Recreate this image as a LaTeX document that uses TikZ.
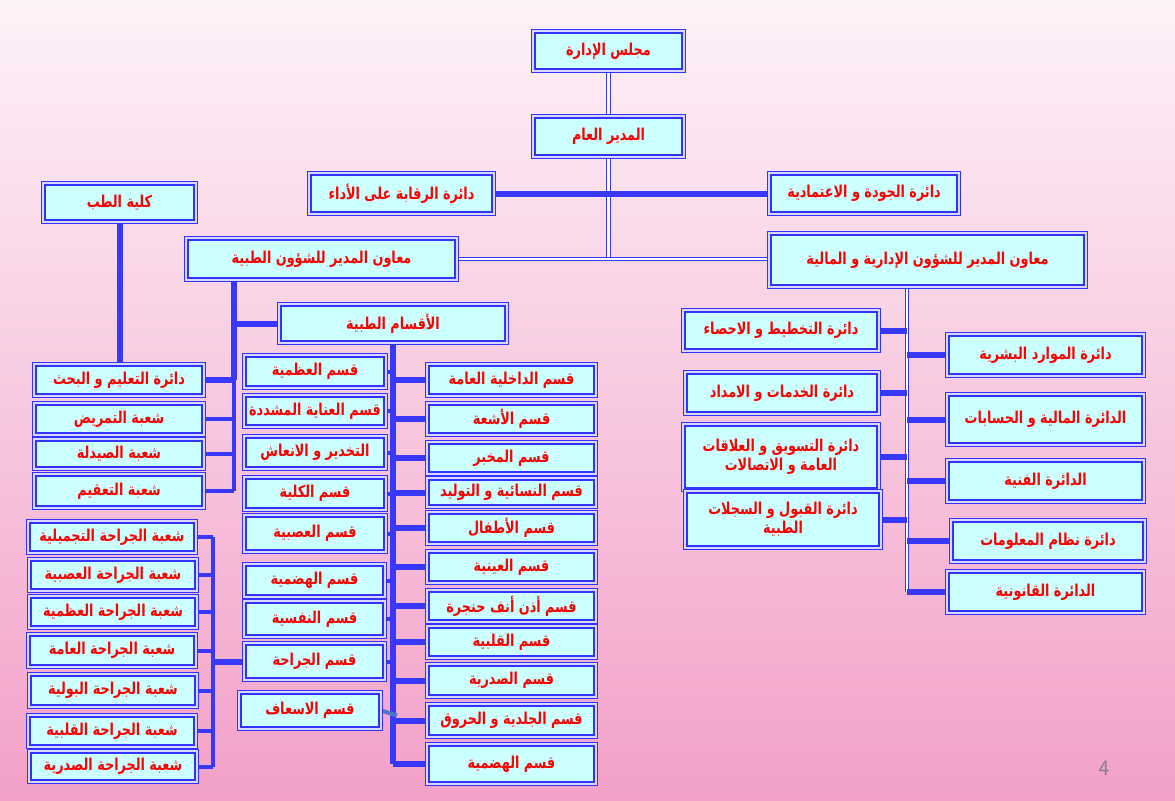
\documentclass[tikz,border=0pt]{standalone}
\usepackage{fontspec}
\newfontfamily\arabicfont[Script=Arabic, FakeStretch=0.78]{DejaVu Sans}
\TeXXeTstate=1
\usetikzlibrary{calc}
\pgfdeclarelayer{bg}
\pgfdeclarelayer{lines}
\pgfsetlayers{bg,lines,main}
\definecolor{lineblue}{RGB}{56,56,250}
\definecolor{boxblue}{RGB}{51,51,255}
\definecolor{boxfill}{RGB}{204,255,255}
\definecolor{gapcol}{RGB}{215,215,255}
\definecolor{txtred}{RGB}{255,0,0}
\definecolor{bgtop}{RGB}{253,242,248}
\definecolor{bgmid}{RGB}{248,210,228}
\definecolor{bgbot}{RGB}{242,160,200}
\definecolor{slantcol}{RGB}{80,120,190}
\newcommand\ar[1]{\beginR #1\endR}
\tikzset{
  box/.style={draw=boxblue, double=gapcol, line width=0.7pt, double distance=1pt,
    fill=boxfill, inner sep=0pt, align=center, text=txtred,
    font=\arabicfont\bfseries\fontsize{8.2}{9.5}\selectfont},
  thk/.style={draw=lineblue, line width=3pt},
  med/.style={draw=lineblue, line width=2pt},
  dbl/.style={draw=lineblue, double=white, line width=0.55pt, double distance=1.1pt},
  slant/.style={draw=slantcol, line width=2pt}
}
\newcommand\bx[6]{\node[box, minimum width={(#4-#2)*0.5pt-1.4pt}, minimum height={(#5-#3)*0.5pt-1.4pt}] (#1) at ({(#2+#4)/2},{(#3+#5)/2}) {#6};}
\begin{document}
\begin{tikzpicture}[x=0.5pt,y=-0.5pt]
\useasboundingbox (0,0) rectangle (1175,800);
\begin{pgfonlayer}{bg}
\shade[top color=bgtop, middle color=bgmid, bottom color=bgbot] (0,0) rectangle (1175,800);
\end{pgfonlayer}
% top
\bx{board}{532}{30}{685}{72}{\ar{مجلس الإدارة}}
\bx{gm}{532}{115}{685}{158}{\ar{المدير العام}}
\bx{rq}{308}{172}{495}{215}{\ar{دائرة الرقابة على الأداء}}
\bx{jd}{768}{172}{960}{215}{\ar{دائرة الجودة و الاعتمادية}}
\bx{kt}{42}{182}{197}{223}{\ar{كلية الطب}}
\bx{ma}{185}{237}{458}{281}{\ar{معاون المدير للشؤون الطبية}}
\bx{aa}{768}{232}{1087}{288}{\ar{معاون المدير للشؤون الإدارية و المالية}}
% admin side
\bx{pl}{682}{309}{880}{352}{\ar{دائرة التخطيط و الاحصاء}}
\bx{sv}{684}{371}{880}{415}{\ar{دائرة الخدمات و الامداد}}
\bx{mk}{682}{423}{880}{491}{\ar{دائرة التسويق و العلاقات}\\\ar{العامة و الاتصالات}}
\bx{ad}{684}{490}{882}{549}{\ar{دائرة القبول و السجلات}\\\ar{الطبية}}
\bx{hr}{946}{333}{1145}{377}{\ar{دائرة الموارد البشرية}}
\bx{fn}{946}{393}{1145}{446}{\ar{الدائرة المالية و الحسابات}}
\bx{tc}{946}{459}{1145}{503}{\ar{الدائرة الفنية}}
\bx{is}{950}{519}{1146}{563}{\ar{دائرة نظام المعلومات}}
\bx{lg}{946}{570}{1145}{614}{\ar{الدائرة القانونية}}
% medical departments
\bx{mq}{278}{303}{508}{344}{\ar{الأقسام الطبية}}
\bx{l1}{243}{354}{387}{389}{\ar{قسم العظمية}}
\bx{l2}{243}{394}{387}{428}{\ar{قسم العناية المشددة}}
\bx{l3}{243}{435}{387}{470}{\ar{التخدير و الانعاش}}
\bx{l4}{243}{476}{387}{511}{\ar{قسم الكلية}}
\bx{l5}{243}{514}{387}{553}{\ar{قسم العصبية}}
\bx{l6}{243}{563}{386}{598}{\ar{قسم الهضمية}}
\bx{l7}{243}{600}{386}{638}{\ar{قسم النفسية}}
\bx{l8}{243}{642}{386}{681}{\ar{قسم الجراحة}}
\bx{em}{238}{691}{382}{730}{\ar{قسم الاسعاف}}
\bx{r1}{426}{363}{597}{397}{\ar{قسم الداخلية العامة}}
\bx{r2}{426}{402}{597}{436}{\ar{قسم الأشعة}}
\bx{r3}{426}{441}{597}{475}{\ar{قسم المخبر}}
\bx{r4}{426}{477}{597}{508}{\ar{قسم النسائية و التوليد}}
\bx{r5}{426}{511}{597}{545}{\ar{قسم الأطفال}}
\bx{r6}{426}{550}{597}{584}{\ar{قسم العينية}}
\bx{r7}{426}{589}{597}{623}{\ar{قسم أذن أنف حنجرة}}
\bx{r8}{426}{625}{597}{659}{\ar{قسم القلبية}}
\bx{r9}{426}{663}{597}{698}{\ar{قسم الصدرية}}
\bx{r10}{426}{703}{597}{738}{\ar{قسم الجلدية و الحروق}}
\bx{r11}{426}{743}{597}{785}{\ar{قسم الهضمية}}
% college
\bx{c1}{33}{363}{205}{397}{\ar{دائرة التعليم و البحث}}
\bx{c2}{33}{402}{205}{436}{\ar{شعبة التمريض}}
\bx{c3}{33}{438}{205}{470}{\ar{شعبة الصيدلة}}
\bx{c4}{33}{473}{205}{509}{\ar{شعبة التعقيم}}
% surgery
\bx{s1}{27}{520}{197}{554}{\ar{شعبة الجراحة التجميلية}}
\bx{s2}{28}{558}{198}{592}{\ar{شعبة الجراحة  العصبية}}
\bx{s3}{28}{595}{198}{629}{\ar{شعبة الجراحة العظمية}}
\bx{s4}{27}{633}{197}{668}{\ar{شعبة الجراحة العامة}}
\bx{s5}{28}{673}{198}{708}{\ar{شعبة الجراحة البولية}}
\bx{s6}{27}{714}{197}{748}{\ar{شعبة الجراحة القلبية}}
\bx{s7}{28}{750}{198}{783}{\ar{شعبة الجراحة الصدرية}}
% trunk coordinates
\coordinate (rt) at (907,0);
\coordinate (mt) at (234,0);
\coordinate (dt) at (393,0);
\coordinate (st) at (213,0);
\begin{pgfonlayer}{lines}
\draw[dbl] (board.south) -- (gm.north);
\draw[dbl] (gm.south) -- (gm.south |- ma.east);
\draw[dbl] (ma.east) -- (ma.east -| aa.west);
\draw[thk] (rq.east) -- (jd.west);
\draw[thk] (kt.south) -- (kt.south |- c1.north);
% admin trunk
\draw[dbl] (aa.south -| rt) -- (rt |- lg.west);
\foreach \n in {pl,sv,mk,ad} \draw[thk] (\n.east) -- (\n.east -| rt);
\foreach \n in {hr,fn,tc,is,lg} \draw[thk] (rt |- \n.west) -- (\n.west);
% medical trunk
\draw[thk] (ma.south -| mt) -- (c1.east -| mt);
\draw[med] (c1.east -| mt) -- (c4.east -| mt);
\draw[thk] (mt |- mq.west) -- (mq.west);
\draw[thk] (c1.east) -- (c1.east -| mt);
\foreach \n in {c2,c3,c4} \draw[med] (\n.east) -- (\n.east -| mt);
% departments trunk
\draw[thk] (mq.south -| dt) -- (r11.west -| dt);
\foreach \n in {r1,r2,r3,r4,r5,r6,r7,r8,r9,r10,r11} \draw[thk] (dt |- \n.west) -- (\n.west);
\foreach \n in {l1,l2,l3,l4,l5,l6,l7,l8} \draw[med] (\n.east) -- (\n.east -| dt);
\draw[slant] (em.east) -- ($(em.east -| dt)+(4,5)$);
% surgery trunk
\draw[med] (s1.east -| st) -- (s7.east -| st);
\foreach \n in {s1,s2,s3,s4,s5,s6,s7} \draw[med] (\n.east) -- (\n.east -| st);
\draw[thk] (st |- l8.west) -- (l8.west);
\end{pgfonlayer}
\node[text=gray, font=\sffamily\fontsize{11}{12}\selectfont] (pg) at (1104,768) {4};
\end{tikzpicture}
\end{document}
